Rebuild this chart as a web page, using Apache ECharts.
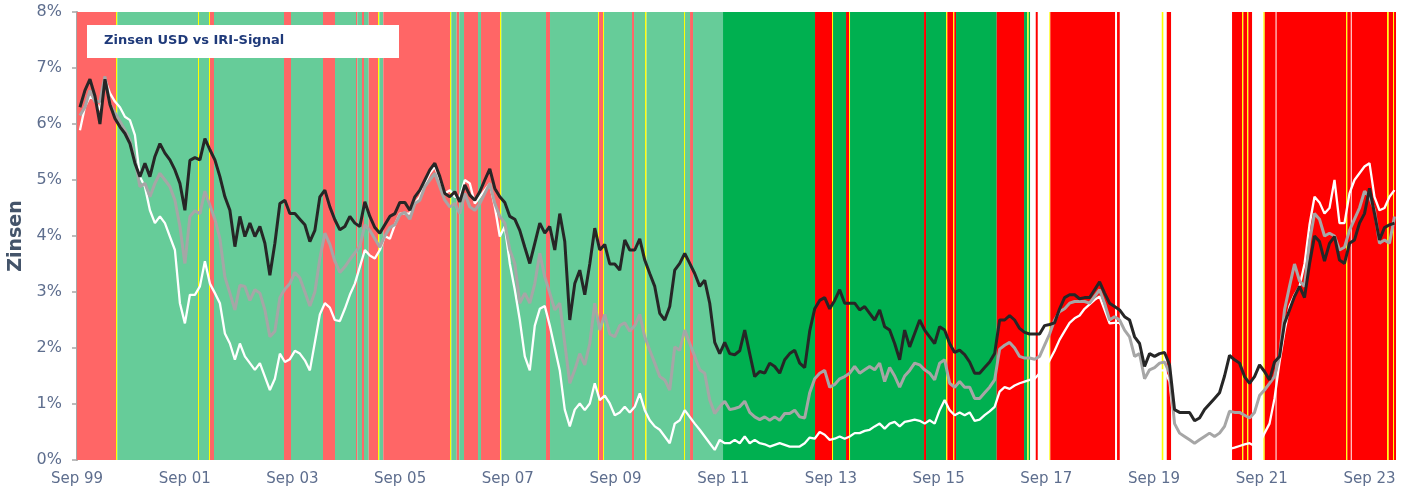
<!DOCTYPE html>
<html>
<head>
<meta charset="utf-8">
<script src="https://cdn.jsdelivr.net/npm/echarts@6/dist/echarts.min.js"></script>
<style>
html,body{margin:0;padding:0;background:#fff;}
#chart{width:1416px;height:492px;}
</style>
</head>
<body>
<div id="chart"></div>
<script>
const sampleStartDay = 20;
const sampleStepDays = 33.9;

// Black line (10y USD rate, %)
const rateBlack = [
6.3,6.6,6.8,6.5,6.0,6.8,6.35,6.1,5.95,5.83,
5.65,5.3,5.06,5.3,5.06,5.42,5.65,5.48,5.36,5.18,
4.94,4.46,5.35,5.4,5.36,5.74,5.54,5.36,5.06,4.7,
4.46,3.81,4.35,3.99,4.23,3.99,4.17,3.87,3.3,3.87,
4.58,4.64,4.4,4.4,4.3,4.2,3.9,4.1,4.7,4.82,
4.52,4.29,4.11,4.17,4.35,4.23,4.17,4.61,4.35,4.15,
4.05,4.2,4.35,4.4,4.6,4.6,4.46,4.7,4.82,5.0,
5.18,5.3,5.06,4.76,4.7,4.79,4.61,4.91,4.73,4.64,
4.79,5.0,5.2,4.85,4.7,4.6,4.35,4.3,4.1,3.8,
3.51,3.87,4.23,4.05,4.17,3.75,4.4,3.9,2.5,3.15,
3.39,2.95,3.5,4.14,3.75,3.85,3.5,3.5,3.39,3.93,
3.75,3.75,3.95,3.57,3.33,3.1,2.62,2.5,2.74,3.39,
3.51,3.69,3.51,3.33,3.1,3.21,2.8,2.1,1.9,2.1,
1.9,1.88,1.95,2.32,1.9,1.49,1.58,1.55,1.73,1.67,
1.55,1.79,1.9,1.96,1.73,1.65,2.3,2.7,2.85,2.9,
2.7,2.85,3.04,2.8,2.8,2.8,2.68,2.74,2.62,2.5,
2.68,2.38,2.32,2.08,1.79,2.32,2.02,2.26,2.5,2.32,
2.2,2.08,2.38,2.32,2.08,1.92,1.96,1.88,1.75,1.55,
1.55,1.65,1.75,1.9,2.5,2.5,2.58,2.5,2.35,2.28,
2.25,2.25,2.25,2.4,2.42,2.45,2.7,2.9,2.95,2.95,
2.88,2.9,2.9,3.04,3.18,2.98,2.8,2.74,2.68,2.56,
2.5,2.2,2.08,1.67,1.9,1.85,1.9,1.92,1.7,0.9,
0.85,0.85,0.85,0.7,0.75,0.9,1.0,1.1,1.2,1.5,
1.87,1.79,1.73,1.49,1.37,1.49,1.7,1.58,1.43,1.75,
1.85,2.44,2.68,2.92,3.1,2.9,3.5,4.0,3.9,3.55,
3.87,3.99,3.57,3.51,3.87,3.93,4.23,4.4,4.85,4.4,
3.93,4.15,4.2,4.23
];

// Grey line (5y USD rate, %)
const rateGrey = [
6.15,6.3,6.6,6.4,6.4,6.85,6.35,6.2,6.05,5.89,
5.71,5.36,4.88,4.94,4.7,4.94,5.12,5.0,4.88,4.64,
4.17,3.51,4.35,4.45,4.4,4.8,4.55,4.3,3.95,3.27,
2.98,2.68,3.12,3.1,2.85,3.04,2.98,2.68,2.2,2.3,
2.9,3.05,3.15,3.35,3.25,3.0,2.75,3.0,3.6,4.05,
3.85,3.55,3.35,3.45,3.58,3.7,3.82,4.2,4.1,3.95,
3.8,4.0,4.15,4.2,4.38,4.42,4.3,4.58,4.64,4.88,
5.0,5.12,4.88,4.64,4.52,4.58,4.4,4.76,4.52,4.46,
4.58,4.76,4.94,4.58,4.35,4.23,3.75,3.51,2.8,2.98,
2.8,3.15,3.69,3.27,2.98,2.68,2.8,2.08,1.37,1.61,
1.9,1.7,2.08,2.8,2.32,2.6,2.25,2.2,2.4,2.45,
2.3,2.4,2.6,2.2,1.96,1.73,1.49,1.43,1.25,2.02,
1.96,2.32,2.08,1.85,1.61,1.55,1.07,0.83,0.95,1.05,
0.9,0.92,0.95,1.05,0.85,0.77,0.72,0.77,0.71,0.77,
0.71,0.83,0.83,0.89,0.77,0.75,1.2,1.45,1.55,1.6,
1.3,1.35,1.45,1.49,1.55,1.67,1.55,1.61,1.67,1.61,
1.73,1.4,1.65,1.5,1.3,1.5,1.6,1.73,1.7,1.61,
1.55,1.43,1.73,1.79,1.37,1.3,1.4,1.3,1.3,1.1,
1.1,1.2,1.3,1.43,1.98,2.05,2.1,2.0,1.85,1.82,
1.82,1.8,1.85,2.05,2.25,2.5,2.65,2.7,2.8,2.83,
2.83,2.83,2.8,2.92,3.04,2.8,2.5,2.56,2.5,2.32,
2.2,1.85,1.9,1.45,1.61,1.65,1.73,1.75,1.55,0.65,
0.48,0.42,0.36,0.3,0.36,0.42,0.48,0.42,0.48,0.6,
0.87,0.85,0.85,0.8,0.75,0.85,1.15,1.25,1.37,1.49,
1.85,2.68,3.1,3.5,3.2,3.1,3.9,4.4,4.3,4.0,
4.05,4.0,3.75,3.8,4.1,4.3,4.5,4.8,4.7,4.46,
3.87,3.93,3.87,4.35
];

// White line (2y USD rate, %)
const rateWhite = [
5.89,6.31,6.49,6.43,6.25,6.8,6.55,6.4,6.3,6.13,
6.07,5.8,5.06,4.88,4.46,4.23,4.35,4.23,3.99,3.75,
2.8,2.44,2.95,2.95,3.1,3.55,3.15,2.98,2.8,2.26,
2.08,1.79,2.08,1.85,1.73,1.61,1.73,1.49,1.25,1.45,
1.9,1.75,1.8,1.95,1.9,1.78,1.6,2.1,2.6,2.8,
2.72,2.5,2.48,2.7,2.95,3.15,3.45,3.75,3.65,3.6,
3.75,4.0,3.95,4.2,4.4,4.4,4.4,4.58,4.7,4.94,
5.12,5.24,5.0,4.76,4.82,4.7,4.7,5.0,4.94,4.58,
4.7,4.82,4.94,4.52,3.99,4.17,3.51,3.04,2.5,1.85,
1.6,2.4,2.7,2.75,2.4,2.0,1.6,0.9,0.6,0.9,
1.01,0.89,1.01,1.37,1.07,1.15,1.01,0.8,0.85,0.95,
0.85,0.95,1.19,0.89,0.71,0.6,0.54,0.42,0.3,0.65,
0.71,0.89,0.77,0.65,0.54,0.42,0.3,0.18,0.36,0.3,
0.3,0.36,0.3,0.42,0.3,0.36,0.3,0.28,0.24,0.27,
0.3,0.27,0.24,0.24,0.24,0.3,0.4,0.38,0.5,0.45,
0.36,0.38,0.42,0.38,0.42,0.48,0.48,0.52,0.54,0.6,
0.65,0.56,0.65,0.68,0.6,0.68,0.7,0.72,0.7,0.65,
0.71,0.65,0.89,1.07,0.89,0.8,0.85,0.8,0.85,0.7,
0.72,0.8,0.87,0.95,1.22,1.3,1.27,1.33,1.37,1.4,
1.43,1.45,1.55,1.65,1.78,1.95,2.15,2.3,2.45,2.53,
2.58,2.7,2.78,2.86,2.92,2.68,2.44,2.45,2.45,2.3,
2.15,1.75,1.75,1.5,1.55,1.55,1.6,1.6,1.4,0.5,
0.3,0.2,0.18,0.15,0.15,0.14,0.13,0.12,0.12,0.15,
0.2,0.22,0.25,0.28,0.3,0.25,0.3,0.48,0.65,1.1,
1.75,2.3,2.75,2.95,3.1,3.5,4.2,4.7,4.6,4.4,
4.5,5.0,4.23,4.23,4.76,5.0,5.12,5.24,5.3,4.7,
4.46,4.5,4.7,4.82
];

// IRI signal bands: start day of each regime, and its code
// R1 = light red, G1 = light green, G2 = green, R2 = red, Y = yellow, W = none
const bandStartDay = [
0,264.5,273.3,820.7,827.5,895.3,902.1,929.2,1404.0,1451.5,
1668.5,1749.9,1892.4,1901.2,1933.1,1946.6,1978.5,2041.6,2050.4,2077.5,
2529.9,2538.8,2575.4,2593.0,2624.9,2719.9,2740.2,2869.1,2877.9,3181.1,
3208.2,3533.8,3540.6,3567.7,3574.5,3764.4,3778.0,3852.6,3862.8,4117.1,
4123.9,4157.8,4178.1,4381.6,5005.6,5120.9,5127.7,5215.9,5236.2,5243.0,
5745.0,5758.5,5894.2,5903.0,5941.6,5950.4,5962.0,6238.0,6423.2,6445.6,
6455.1,6463.9,6502.6,6516.1,6594.8,6601.6,7040.4,7054.0,7072.3,7357.2,
7368.0,7391.1,7420.3,7834.0,7901.8,7910.6,7935.8,7944.6,7969.7,8046.4,
8055.9,8129.1,8135.9,8607.2,8616.0,8639.1,8645.9,8885.3,8896.8,8926.0,
8932.8
];
const bandSignal = [
'R1','Y','G1','Y','G1','Y','R1','G1','R1','G1',
'R1','G1','R1','G1','R1','G1','R1','Y','G1','R1',
'Y','G1','R1','G1','R1','G1','R1','Y','G1','R1',
'G1','Y','R1','Y','G1','R1','G1','Y','G1','Y',
'G1','R1','G1','G2','R2','Y','G2','R2','Y','G2',
'R2','G2','Y','R2','Y','R2','G2','R2','G2','Y',
'G2','W','R2','W','Y','R2','W','R2','W','Y',
'W','R2','W','R2','Y','R2','Y','R2','W','Y',
'R2','W','R2','Y','R2','W','R2','Y','R2','Y',
'R2'
];
const lastDay = 8946;

const xTickYears = ['99','01','03','05','07','09','11','13','15','17','19','21','23'];

const signalColor = {R1:'#FF6666', G1:'#66CC99', G2:'#00B050', R2:'#FF0000', Y:'#FFFF00', W:null};

function pairs(vals){ return vals.map((v,i)=>[sampleStartDay + i*sampleStepDays, v]); }

const areas = [];
for (let i=0;i<bandStartDay.length;i++){
  const c = signalColor[bandSignal[i]];
  if (!c) continue;
  const end = i+1<bandStartDay.length ? bandStartDay[i+1] : lastDay;
  areas.push([{xAxis:bandStartDay[i], itemStyle:{color:c, borderWidth:0, opacity:1}}, {xAxis:end}]);
}

const labelColor = '#5E6E8E';
const chart = echarts.init(document.getElementById('chart'), null, {renderer:'canvas'});
chart.setOption({
  animation:false,
  backgroundColor:'#ffffff',
  grid:{left:77, right:20, top:12, bottom:32, containLabel:false, outerBoundsMode:'none'},
  xAxis:{
    type:'value', min:0, max:lastDay, interval:730.5,
    axisLine:{show:false}, axisTick:{show:false}, splitLine:{show:false},
    axisLabel:{
      showMaxLabel:false,
      color:labelColor, fontFamily:'DejaVu Sans', fontSize:15, margin:12,
      formatter:function(v){
        const k = Math.round(v/730.5);
        if (Math.abs(v - k*730.5) > 1 || k>=xTickYears.length) return '';
        return 'Sep ' + xTickYears[k];
      }
    }
  },
  yAxis:{
    type:'value', min:0, max:8, interval:1,
    name:'Zinsen', nameLocation:'middle', nameGap:50, nameRotate:90,
    nameTextStyle:{color:'#44546A', fontFamily:'DejaVu Sans', fontWeight:'bold', fontSize:19},
    axisLine:{show:true, lineStyle:{color:'#A6A6A6', width:2}},
    axisTick:{show:true, length:5, lineStyle:{color:'#A6A6A6', width:1.5}},
    splitLine:{show:false},
    axisLabel:{color:labelColor, fontFamily:'DejaVu Sans', fontSize:16, margin:15, formatter:'{value}%'}
  },
  series:[
    {type:'line', name:'bands', data:[], silent:true, z:1,
     markArea:{silent:true, data:areas}},
    {type:'line', name:'2y', data:pairs(rateWhite), showSymbol:false, z:3,
     lineStyle:{color:'#FFFFFF', width:2.3}},
    {type:'line', name:'5y', data:pairs(rateGrey), showSymbol:false, z:4,
     lineStyle:{color:'#A6A6A6', width:3}},
    {type:'line', name:'10y', data:pairs(rateBlack), showSymbol:false, z:5,
     lineStyle:{color:'#262626', width:3}}
  ],
  graphic:[
    {type:'rect', left:87, top:25, z:10, shape:{width:312, height:33}, style:{fill:'#FFFFFF'}},
    {type:'text', left:104, top:34, z:11, style:{text:'Zinsen USD vs IRI-Signal', fill:'#1F3A7A', font:'bold 13px "DejaVu Sans"'}}
  ]
});
</script>
</body>
</html>
